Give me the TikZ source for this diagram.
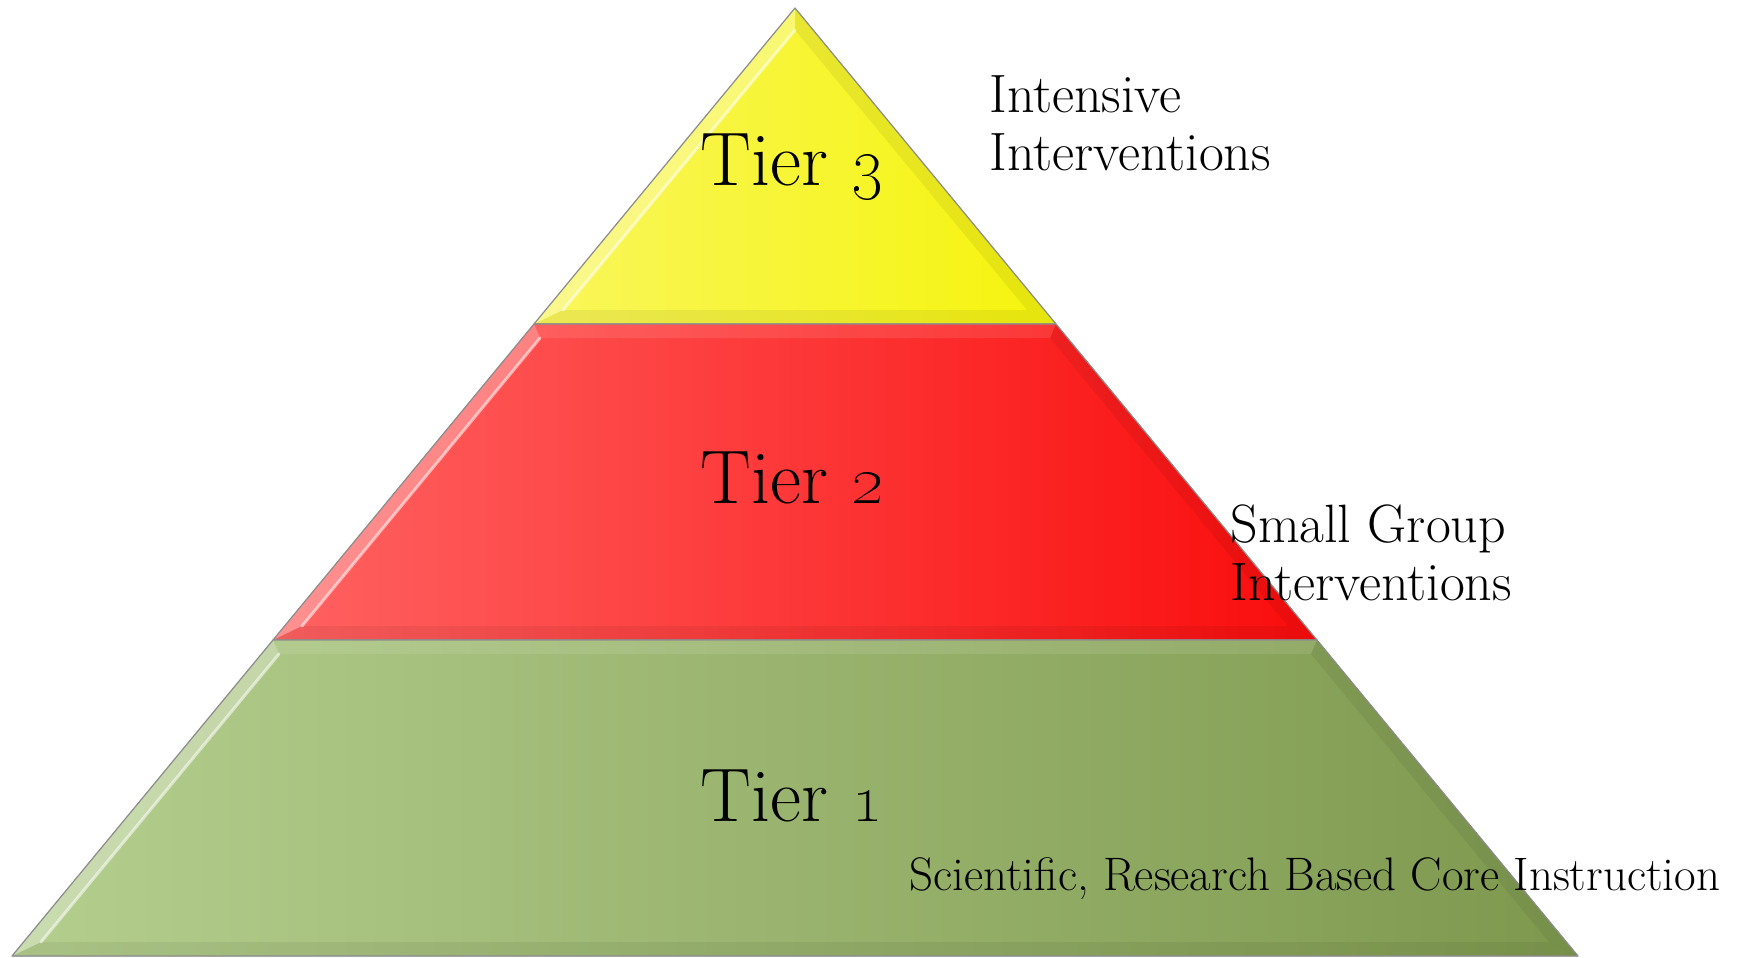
\documentclass[tikz,border=0pt]{standalone}

\definecolor{yellowL}{RGB}{249,246,92}
\definecolor{yellowR}{RGB}{245,244,12}
\definecolor{redL}{RGB}{255,98,98}
\definecolor{redR}{RGB}{250,12,12}
\definecolor{greenL}{RGB}{180,206,142}
\definecolor{greenR}{RGB}{126,153,78}

\begin{document}
\begin{tikzpicture}[x=0.5pt, y=-0.5pt,
    bandedge/.style={draw=black!45, line width=0.6pt, line join=round},
    lightstrip/.style={fill=white, fill opacity=0.3},
    darkstrip/.style={fill=black, fill opacity=0.06},
    shine/.style={draw=white, draw opacity=0.55, line width=1.5pt, line cap=round},
    tierlabel/.style={font=\fontsize{38}{42}\selectfont, anchor=base, inner sep=0pt},
    sidelabel/.style={font=\fontsize{27}{29}\selectfont, anchor=base west, align=left, inner sep=0pt}]

    \useasboundingbox (0,0) rectangle (1741,958);

    % Outer corners of the three bands
    \coordinate (A) at (795,8);
    \coordinate (B3l) at (534,324);
    \coordinate (B3r) at (1056,324);
    \coordinate (B2l) at (273,640);
    \coordinate (B2r) at (1317,640);
    \coordinate (B1l) at (12,956);
    \coordinate (B1r) at (1578,956);

    % Inner corners of the bevels
    \coordinate (a) at (795,30);
    \coordinate (y1) at (563,310);
    \coordinate (y2) at (1027,310);
    \coordinate (r1) at (540,338);
    \coordinate (r2) at (1050,338);
    \coordinate (r3) at (1288,626);
    \coordinate (r4) at (302,626);
    \coordinate (g1) at (279,654);
    \coordinate (g2) at (1311,654);
    \coordinate (g3) at (1549,942);
    \coordinate (g4) at (41,942);

    % Tier 3 band
    \fill[left color=yellowL, right color=yellowR] (A) -- (B3r) -- (B3l) -- cycle;
    \fill[lightstrip] (A) -- (B3l) -- (y1) -- (a) -- cycle;
    \fill[darkstrip] (A) -- (a) -- (y2) -- (B3r) -- cycle;
    \fill[darkstrip] (B3l) -- (B3r) -- (y2) -- (y1) -- cycle;
    \draw[shine] (a) -- (y1);
    \draw[bandedge] (A) -- (B3r) -- (B3l) -- cycle;

    % Tier 2 band
    \fill[left color=redL, right color=redR] (B3l) -- (B3r) -- (B2r) -- (B2l) -- cycle;
    \fill[lightstrip] (B3l) -- (B2l) -- (r4) -- (r1) -- cycle;
    \fill[lightstrip, fill opacity=0.1] (B3l) -- (B3r) -- (r2) -- (r1) -- cycle;
    \fill[darkstrip] (B3r) -- (r2) -- (r3) -- (B2r) -- cycle;
    \fill[darkstrip] (B2l) -- (B2r) -- (r3) -- (r4) -- cycle;
    \draw[shine] (r1) -- (r4);
    \draw[bandedge] (B3l) -- (B3r) -- (B2r) -- (B2l) -- cycle;

    % Tier 1 band
    \fill[left color=greenL, right color=greenR] (B2l) -- (B2r) -- (B1r) -- (B1l) -- cycle;
    \fill[lightstrip] (B2l) -- (B1l) -- (g4) -- (g1) -- cycle;
    \fill[lightstrip, fill opacity=0.1] (B2l) -- (B2r) -- (g2) -- (g1) -- cycle;
    \fill[darkstrip] (B2r) -- (g2) -- (g3) -- (B1r) -- cycle;
    \fill[darkstrip] (B1l) -- (B1r) -- (g3) -- (g4) -- cycle;
    \draw[shine] (g1) -- (g4);
    \draw[bandedge] (B2l) -- (B2r) -- (B1r) -- (B1l) -- cycle;

    % Tier names
    \node[tierlabel] (tier3) at (792,185) {Tier \oldstylenums{3}};
    \node[tierlabel] (tier2) at (792,503) {Tier \oldstylenums{2}};
    \node[tierlabel] (tier1) at (792,821) {Tier \oldstylenums{1}};

    % Side notes (anchored on the baseline of their last line)
    \node[sidelabel] (note3) at (989,170) {Intensive\\Interventions};
    \node[sidelabel] (note2) at (1230,600) {Small Group\\Interventions};
    \node[sidelabel, font=\fontsize{23.5}{27}\selectfont] (note1) at (909,890)
        {Scientific, Research Based Core Instruction};

\end{tikzpicture}
\end{document}
